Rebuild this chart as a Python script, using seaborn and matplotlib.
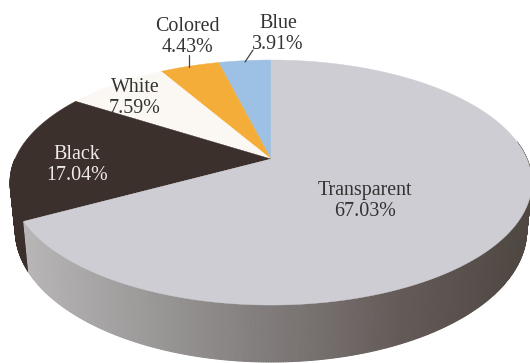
import numpy as np
import matplotlib
matplotlib.use("Agg")
import matplotlib.pyplot as plt
import seaborn as sns

# Share of each category, in percent, counter-clockwise from twelve o'clock
categories = ["Blue", "Colored", "White", "Black", "Transparent"]
shares = [3.91, 4.43, 7.59, 17.04, 67.03]
face_colors = ["#9dc1e4", "#f5ad39", "#fbf8f4", "#3b302b", "#cdcdd3"]
text_colors = ["#333333", "#333333", "#333333", "#f0ece8", "#333333"]
label_positions = [(278, 34), (187, 37), (135, 98), (77, 165), (365, 201)]

# Perspective of the tilted disc, in canvas pixels
cx, cy = 271.0, 159.0
semi_x, semi_y, tilt = 256.0, 118.0, -0.192
rim_depth, rim_shrink = 46.0, 0.98


def top_face(theta):
    u, v = -np.sin(theta), np.cos(theta) * -1
    w = 1 + tilt * v
    return cx + semi_x * u / w, cy + semi_y * v / w


def bottom_edge(theta):
    x, y = top_face(theta)
    v = -np.cos(theta)
    return cx + (x - cx) * rim_shrink, y + rim_depth / (1 + tilt * v)


sns.set_theme(style="white")
plt.rcParams["font.family"] = ["Liberation Serif", "DejaVu Serif"]

fig = plt.figure(figsize=(5.30, 3.63), dpi=100)
ax = fig.add_axes([0, 0, 1, 1])
ax.set_xlim(0, 530)
ax.set_ylim(363, 0)
ax.axis("off")

edges = np.deg2rad(np.concatenate([[0], np.cumsum(shares)]) * 3.6)

# Rim: dark under the Black slice, a grey ramp under the Transparent slice
black_end = edges[4]
steps = np.linspace(np.pi / 2, 3 * np.pi / 2 + 0.15, 420)
ramp = sns.blend_palette(["#b7b5b6", "#9b9898", "#7f7a79", "#645b58", "#4f4742"], 256)
for a0, a1 in zip(steps[:-1], steps[1:]):
    mid = (a0 + a1) / 2
    xt0, yt0 = top_face(a0)
    xt1, yt1 = top_face(a1)
    xb0, yb0 = bottom_edge(a0)
    xb1, yb1 = bottom_edge(a1)
    if mid < black_end:
        color = face_colors[3]
    else:
        frac = np.clip((0.5 * (xt0 + xt1) - 25) / 500, 0, 1)
        color = ramp[int(frac * 255)]
    ax.fill([xt0, xt1, xb1, xb0], [yt0, yt1, yb1, yb0], color=color, lw=0.8, zorder=1)

# Top face slices
for start, end, color in zip(edges[:-1], edges[1:], face_colors):
    arc = np.linspace(start, end, 200)
    xs, ys = top_face(arc)
    ax.fill(np.r_[cx, xs], np.r_[cy, ys], color=color, lw=0.3, zorder=2)

# Leader lines for the two narrow slices
ax.plot([253, 245], [50, 62], color="#444444", lw=0.9, zorder=3)
ax.plot([189, 189], [55, 67], color="#444444", lw=0.9, zorder=3)

for name, share, (x, y), tc in zip(categories, shares, label_positions, text_colors):
    ax.text(x, y, f"{name}\n{share:.2f}%", ha="center", va="center",
            fontsize=14.4, color=tc, linespacing=1.2, zorder=4)

fig.savefig("out.png", dpi=100)
